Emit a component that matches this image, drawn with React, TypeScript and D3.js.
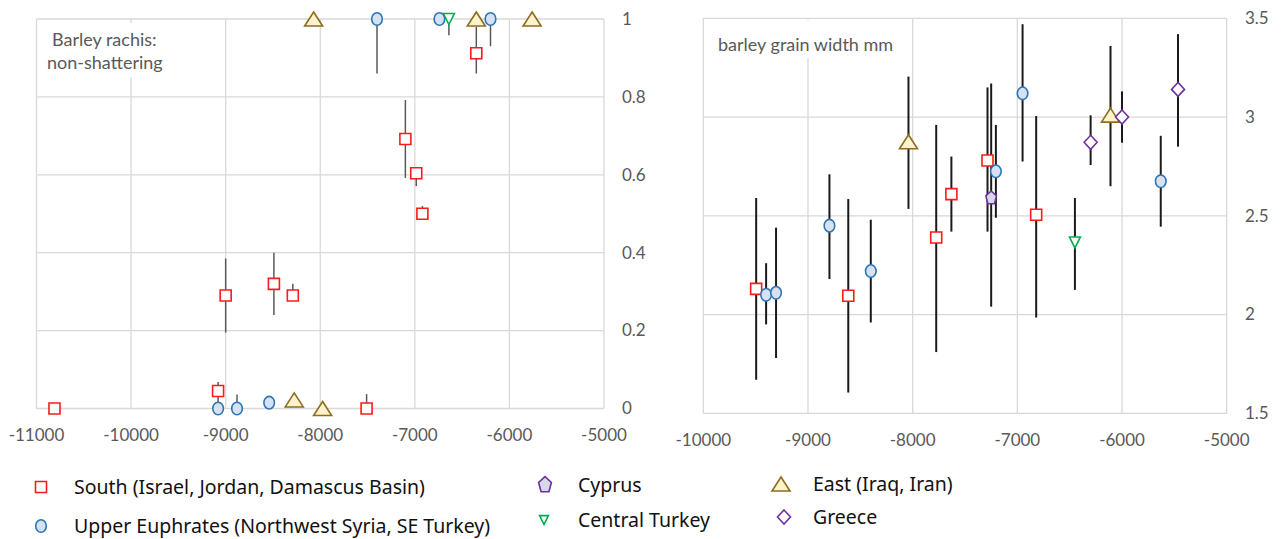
import { useEffect, useRef } from 'react';
import * as d3 from 'd3';

// [year, value, errLow, errHigh]
const rachisSouth = [
  [-10810, 0, 0, 0],
  [-9080, 0.045, 0.03, 0.023],
  [-9000, 0.29, 0.095, 0.095],
  [-8490, 0.32, 0.08, 0.08],
  [-8290, 0.29, 0, 0.03],
  [-7510, 0, 0, 0.037],
  [-7100, 0.692, 0.1, 0.1],
  [-6985, 0.604, 0.033, 0],
  [-6920, 0.5, 0, 0.02],
  [-6350, 0.912, 0.052, 0.068],
];
const rachisEuphrates = [
  [-9080, 0, 0, 0],
  [-8880, 0, 0, 0.036],
  [-8540, 0.015, 0, 0],
  [-7400, 1, 0.14, 0],
  [-6740, 1, 0, 0],
  [-6200, 1, 0.07, 0],
];
const rachisCentral = [[-6640, 1, 0.042, 0]];
const rachisEast = [
  [-8070, 1, 0, 0],
  [-6350, 1, 0, 0],
  [-5760, 1, 0, 0],
  [-8275, 0.022, 0, 0],
  [-7975, 0, 0, 0],
];

const grainSouth = [
  [-9495, 2.13, 0.46, 0.46],
  [-8615, 2.095, 0.49, 0.49],
  [-7775, 2.39, 0.58, 0.57],
  [-7630, 2.61, 0.19, 0.19],
  [-7285, 2.78, 0.36, 0.37],
  [-6820, 2.505, 0.52, 0.5],
];
const grainEuphrates = [
  [-9400, 2.1, 0.15, 0.16],
  [-9305, 2.11, 0.33, 0.33],
  [-8795, 2.45, 0.27, 0.26],
  [-8400, 2.22, 0.26, 0.26],
  [-7205, 2.725, 0.235, 0.235],
  [-6950, 3.12, 0.345, 0.35],
  [-5630, 2.675, 0.23, 0.23],
];
const grainCyprus = [[-7250, 2.59, 0.55, 0.58]];
const grainCentral = [[-6450, 2.365, 0.24, 0.225]];
const grainEast = [
  [-8040, 2.875, 0.34, 0.33],
  [-6110, 3.01, 0.36, 0.35],
];
const grainGreece = [
  [-6300, 2.872, 0.115, 0.137],
  [-6000, 3.0, 0.13, 0.13],
  [-5465, 3.14, 0.29, 0.28],
];

const rachisXTicks = [-11000, -10000, -9000, -8000, -7000, -6000, -5000];
const rachisYTicks = [0, 0.2, 0.4, 0.6, 0.8, 1];
const grainXTicks = [-10000, -9000, -8000, -7000, -6000, -5000];
const grainYTicks = [1.5, 2, 2.5, 3, 3.5];

const legendItems = [
  { key: 'south', label: 'South (Israel, Jordan, Damascus Basin)' },
  { key: 'euphrates', label: 'Upper Euphrates (Northwest Syria, SE Turkey)' },
  { key: 'cyprus', label: 'Cyprus' },
  { key: 'central', label: 'Central Turkey' },
  { key: 'east', label: 'East (Iraq, Iran)' },
  { key: 'greece', label: 'Greece' },
];

const styles = {
  south: { fill: '#ffffff', stroke: '#ff1a1a' },
  euphrates: { fill: '#d6e2f3', stroke: '#2e75b6' },
  cyprus: { fill: '#d4dae6', stroke: '#7030a0' },
  central: { fill: '#ffffff', stroke: '#00b050' },
  east: { fill: '#fff2cc', stroke: '#8c6d1f' },
  greece: { fill: '#ffffff', stroke: '#7030a0' },
};

function markerPath(kind, s = 1) {
  switch (kind) {
    case 'south': {
      const w = 5.5 * s;
      return `M${-w},${-w}H${w}V${w}H${-w}Z`;
    }
    case 'euphrates': {
      const rx = 5.3 * s, ry = 6.3 * s;
      return `M${-rx},0A${rx},${ry} 0 1,0 ${rx},0A${rx},${ry} 0 1,0 ${-rx},0Z`;
    }
    case 'cyprus': {
      const r = 7 * s;
      const pts = d3.range(5).map((i) => {
        const a = -Math.PI / 2 + (i * 2 * Math.PI) / 5;
        return [Math.cos(a) * r * 0.8, Math.sin(a) * r];
      });
      return 'M' + pts.map((p) => p.join(',')).join('L') + 'Z';
    }
    case 'central': {
      const w = 5.5 * s, h = 5.5 * s;
      return `M${-w},${-h}H${w}L0,${h}Z`;
    }
    case 'east': {
      const w = 9 * s, h = 7 * s;
      return `M0,${-h}L${w},${h}H${-w}Z`;
    }
    case 'greece': {
      const w = 6.5 * s, h = 7 * s;
      return `M0,${-h}L${w},0L0,${h}L${-w},0Z`;
    }
  }
  return '';
}

function drawPanel(svg, cfg) {
  const x = d3.scaleLinear().domain(cfg.xDomain).range(cfg.xRange);
  const y = d3.scaleLinear().domain(cfg.yDomain).range(cfg.yRange);
  const g = svg.append('g');
  const [y0, y1] = cfg.yRange;
  const [x0, x1] = cfg.xRange;

  g.selectAll('.vg').data(cfg.xTicks).enter().append('line')
    .attr('x1', (d) => x(d)).attr('x2', (d) => x(d))
    .attr('y1', y1).attr('y2', y0)
    .attr('stroke', '#d9d9d9').attr('stroke-width', 1.3);
  g.selectAll('.hg').data(cfg.yTicks).enter().append('line')
    .attr('x1', x0).attr('x2', x1)
    .attr('y1', (d) => y(d)).attr('y2', (d) => y(d))
    .attr('stroke', '#d9d9d9').attr('stroke-width', 1.3);

  g.selectAll('.xl').data(cfg.xTicks).enter().append('text')
    .attr('x', (d) => x(d)).attr('y', y0 + 32.5)
    .attr('text-anchor', 'middle')
    .attr('font-family', 'Lato, sans-serif').attr('font-size', 17)
    .attr('fill', '#595959')
    .text((d) => d3.format('')(d).replace('−', '-'));
  g.selectAll('.yl').data(cfg.yTicks).enter().append('text')
    .attr('x', cfg.yLabelX).attr('y', (d) => y(d) + 5.8)
    .attr('font-family', 'Lato, sans-serif').attr('font-size', 17)
    .attr('fill', '#595959')
    .text((d) => String(d));

  // title box
  g.append('rect').attr('x', cfg.titleBox[0]).attr('y', cfg.titleBox[1])
    .attr('width', cfg.titleBox[2]).attr('height', cfg.titleBox[3]).attr('fill', '#fff');
  cfg.title.forEach((t) => {
    g.append('text').attr('x', t.x).attr('y', t.y)
      .attr('font-family', 'Lato, sans-serif').attr('font-size', 18)
      .attr('fill', '#595959').text(t.text);
  });

  // error bars first
  cfg.series.forEach((s) => {
    g.selectAll(null).data(s.data.filter((d) => d[2] > 0 || d[3] > 0)).enter().append('line')
      .attr('x1', (d) => x(d[0])).attr('x2', (d) => x(d[0]))
      .attr('y1', (d) => y(d[1] - d[2])).attr('y2', (d) => y(d[1] + d[3]))
      .attr('stroke', cfg.errColor).attr('stroke-width', cfg.errWidth);
  });
  cfg.series.forEach((s) => {
    g.selectAll(null).data(s.data).enter().append('path')
      .attr('transform', (d) => `translate(${x(d[0])},${y(d[1])})`)
      .attr('d', markerPath(s.kind))
      .attr('fill', styles[s.kind].fill)
      .attr('stroke', styles[s.kind].stroke)
      .attr('stroke-width', 1.6);
  });
}

export default function App() {
  const svgRef = useRef(null);

  useEffect(() => {
    const svg = d3.select(svgRef.current);
    svg.selectAll('*').remove();

    drawPanel(svg, {
      xDomain: [-11000, -5000], xRange: [36.5, 604],
      yDomain: [0, 1], yRange: [408.5, 19],
      xTicks: rachisXTicks, yTicks: rachisYTicks, yLabelX: 622,
      titleBox: [40, 23, 130, 54],
      title: [
        { text: 'Barley rachis:', x: 52, y: 46 },
        { text: 'non-shattering', x: 47, y: 69 },
      ],
      errColor: '#595959', errWidth: 1.5,
      series: [
        { kind: 'south', data: rachisSouth },
        { kind: 'euphrates', data: rachisEuphrates },
        { kind: 'central', data: rachisCentral },
        { kind: 'east', data: rachisEast },
      ],
    });

    drawPanel(svg, {
      xDomain: [-10000, -5000], xRange: [703.3, 1226.7],
      yDomain: [1.5, 3.5], yRange: [413.3, 18.3],
      xTicks: grainXTicks, yTicks: grainYTicks, yLabelX: 1245,
      titleBox: [712, 20, 194, 38],
      title: [{ text: 'barley grain width mm', x: 718, y: 51 }],
      errColor: '#1a1a1a', errWidth: 2,
      series: [
        { kind: 'south', data: grainSouth },
        { kind: 'euphrates', data: grainEuphrates },
        { kind: 'cyprus', data: grainCyprus },
        { kind: 'central', data: grainCentral },
        { kind: 'east', data: grainEast },
        { kind: 'greece', data: grainGreece },
      ],
    });

    // legend
    const pos = [
      [41, 487], [41, 526], [545, 485], [544, 520], [781, 484], [784, 517],
    ];
    const scale = { south: 1, euphrates: 1, cyprus: 1.2, central: 0.8, east: 1, greece: 1 };
    const lg = svg.append('g');
    legendItems.forEach((item, i) => {
      const [px, py] = pos[i];
      lg.append('path')
        .attr('transform', `translate(${px},${py})`)
        .attr('d', markerPath(item.key, scale[item.key]))
        .attr('fill', styles[item.key].fill)
        .attr('stroke', styles[item.key].stroke)
        .attr('stroke-width', 1.6);
      lg.append('text')
        .attr('x', i < 2 ? 74 : i < 4 ? 578 : 813)
        .attr('y', py + 7)
        .attr('font-family', '"Noto Sans", sans-serif').attr('font-size', 19.5)
        .attr('fill', '#111')
        .text(item.label);
    });
  }, []);

  return (
    <svg ref={svgRef} width={1286} height={539}
      style={{ position: 'absolute', left: 0, top: 0, background: '#fff' }} />
  );
}
